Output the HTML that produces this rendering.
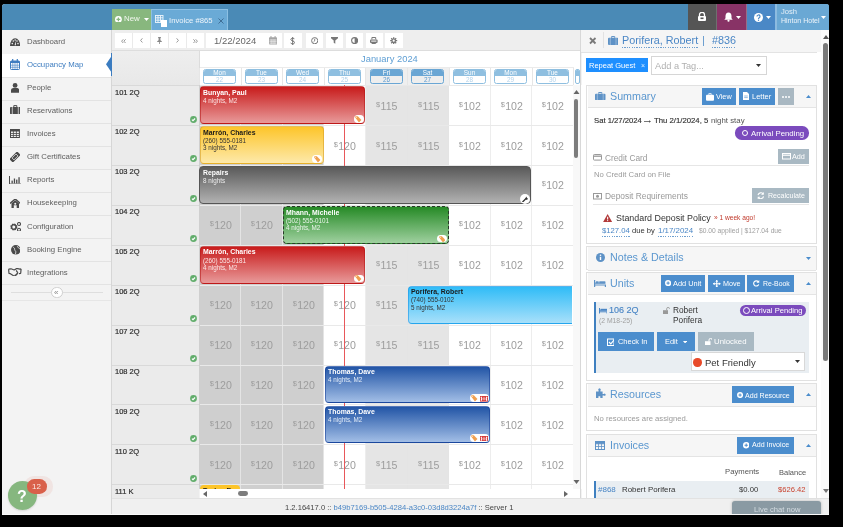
<!DOCTYPE html><html><head><meta charset="utf-8"><style>
*{box-sizing:border-box;margin:0;padding:0}
html,body{width:843px;height:527px;overflow:hidden;background:#000;font-family:"Liberation Sans",sans-serif;position:relative}
.a{position:absolute}
.t{position:absolute;line-height:1;white-space:nowrap;will-change:transform}
.b{font-weight:bold}
</style></head><body><div class="a" style="left:2px;top:4px;width:827px;height:511px;background:#f3f3f3;border-radius:3px 3px 0 0"></div>
<div class="a" style="left:2px;top:4px;width:827px;height:26px;background:#4a8ab6;border-radius:3px 3px 0 0"></div>
<div class="a" style="left:112px;top:9px;width:39px;height:21px;background:#88b77e"></div>
<svg class="a" style="left:115.2px;top:15.6px;" width="6.8" height="6.8" viewBox="0 0 6.8 6.8"><circle cx="3.4" cy="3.4" r="3.4" fill="#fff"/><path d="M3.4 1.5v3.8M1.5 3.4h3.8" stroke="#88b77e" stroke-width="1.3"/></svg>
<div class="t " style="left:124.2px;top:15.21px;font-size:7.9px;color:#f2f7ef">New</div>
<svg class="a" style="left:144px;top:17.6px;" width="5" height="3" viewBox="0 0 5 3"><path d="M0 0h5L2.5 3z" fill="#fff"/></svg>
<div class="a" style="left:151px;top:9px;width:77px;height:21px;background:#6aaad6;border:1px solid #8cc0e3;border-bottom:none"></div>
<svg class="a" style="left:155px;top:15px;" width="13" height="13" viewBox="0 0 13 13"><g fill="none" stroke="#eef5fb" stroke-width="0.9"><rect x="0.5" y="0.5" width="7.5" height="7"/><path d="M0.5 2.8h7.5M0.5 5.2h7.5M3 0.5v7M5.5 0.5v7"/></g><rect x="6" y="5" width="6" height="7" fill="#fff"/></svg>
<div class="t " style="left:168.5px;top:17.08px;font-size:7.7px;color:#eef5fb">Invoice #865</div>
<svg class="a" style="left:218px;top:18px;" width="6" height="6" viewBox="0 0 6 6"><path d="M0.5 0.5l5 5M5.5 0.5l-5 5" stroke="#3f6f96" stroke-width="1"/></svg>
<div class="a" style="left:688px;top:4px;width:28px;height:26px;background:#555"></div>
<div class="a" style="left:716px;top:4px;width:1px;height:26px;background:#6f6f6f"></div>
<div class="a" style="left:717px;top:4px;width:29px;height:26px;background:#883366"></div>
<div class="a" style="left:746px;top:4px;width:1px;height:26px;background:#9a6d86"></div>
<div class="a" style="left:747px;top:4px;width:28px;height:26px;background:#4a88c6"></div>
<div class="a" style="left:775px;top:4px;width:2px;height:26px;background:#8cbbe0"></div>
<div class="a" style="left:777px;top:4px;width:52px;height:26px;background:#6aa8d4;border-radius:0 3px 0 0"></div>
<svg class="a" style="left:697px;top:12px;" width="10" height="9" viewBox="0 0 10 9"><path d="M2.5 4V2.8a2.5 2.5 0 0 1 5 0V4" fill="none" stroke="#fff" stroke-width="1.3"/><rect x="1" y="4" width="8" height="5" rx="1" fill="#fff"/><rect x="3.5" y="5.5" width="3" height="1.6" fill="#555"/></svg>
<svg class="a" style="left:724px;top:12px;" width="9" height="10" viewBox="0 0 9 10"><path d="M4.5 0.5c2 0 3 1.6 3 3.5v2.2l1.2 1.6H0.3l1.2-1.6V4c0-1.9 1-3.5 3-3.5z" fill="#fff"/><circle cx="4.5" cy="8.7" r="1.1" fill="#fff"/></svg>
<svg class="a" style="left:736px;top:16px;" width="5" height="3" viewBox="0 0 5 3"><path d="M0 0h5L2.5 3z" fill="#fff"/></svg>
<svg class="a" style="left:753.5px;top:12.5px;" width="9" height="9" viewBox="0 0 9 9"><circle cx="4.5" cy="4.5" r="4.5" fill="#fff"/><path d="M3 3.5a1.5 1.5 0 1 1 2.2 1.3c-.6.3-.7.6-.7 1.1" fill="none" stroke="#4a88c6" stroke-width="1.2"/><circle cx="4.5" cy="7.2" r=".7" fill="#4a88c6"/></svg>
<svg class="a" style="left:766px;top:16px;" width="5" height="3" viewBox="0 0 5 3"><path d="M0 0h5L2.5 3z" fill="#fff"/></svg>
<div class="t " style="left:780.7px;top:8.37px;font-size:7.6px;color:#e6f0f8">Josh</div>
<div class="t " style="left:780.7px;top:17.07px;font-size:7px;color:#eef4fa">Hinton Hotel</div>
<svg class="a" style="left:821px;top:16px;" width="5" height="3" viewBox="0 0 5 3"><path d="M0 0h5L2.5 3z" fill="#fff"/></svg>
<div class="a" style="left:2px;top:30px;width:110px;height:484px;background:#f3f3f3"></div>
<div class="a" style="left:2px;top:53.6px;width:110px;height:1px;background:#e3e3e3"></div>
<div class="t " style="left:26.8px;top:38.20px;font-size:7.8px;color:#5e5e5e">Dashboard</div>
<div class="a" style="left:2px;top:53.64px;width:110px;height:23px;background:#fff"></div>
<div class="a" style="left:2px;top:76.64px;width:110px;height:1px;background:#e3e3e3"></div>
<div class="t " style="left:26.8px;top:61.24px;font-size:7.8px;color:#3e7dc0">Occupancy Map</div>
<div class="a" style="left:2px;top:99.68px;width:110px;height:1px;background:#e3e3e3"></div>
<div class="t " style="left:26.8px;top:84.28px;font-size:7.8px;color:#5e5e5e">People</div>
<div class="a" style="left:2px;top:122.72px;width:110px;height:1px;background:#e3e3e3"></div>
<div class="t " style="left:26.8px;top:107.32px;font-size:7.8px;color:#5e5e5e">Reservations</div>
<div class="a" style="left:2px;top:145.76px;width:110px;height:1px;background:#e3e3e3"></div>
<div class="t " style="left:26.8px;top:130.36px;font-size:7.8px;color:#5e5e5e">Invoices</div>
<div class="a" style="left:2px;top:168.79999999999998px;width:110px;height:1px;background:#e3e3e3"></div>
<div class="t " style="left:26.8px;top:153.40px;font-size:7.8px;color:#5e5e5e">Gift Certificates</div>
<div class="a" style="left:2px;top:191.84px;width:110px;height:1px;background:#e3e3e3"></div>
<div class="t " style="left:26.8px;top:176.44px;font-size:7.8px;color:#5e5e5e">Reports</div>
<div class="a" style="left:2px;top:214.88px;width:110px;height:1px;background:#e3e3e3"></div>
<div class="t " style="left:26.8px;top:199.48px;font-size:7.8px;color:#5e5e5e">Housekeeping</div>
<div class="a" style="left:2px;top:237.92px;width:110px;height:1px;background:#e3e3e3"></div>
<div class="t " style="left:26.8px;top:222.52px;font-size:7.8px;color:#5e5e5e">Configuration</div>
<div class="a" style="left:2px;top:260.96px;width:110px;height:1px;background:#e3e3e3"></div>
<div class="t " style="left:26.8px;top:245.56px;font-size:7.8px;color:#5e5e5e">Booking Engine</div>
<div class="a" style="left:2px;top:284.0px;width:110px;height:1px;background:#e3e3e3"></div>
<div class="t " style="left:26.8px;top:268.60px;font-size:7.8px;color:#5e5e5e">Integrations</div>
<svg class="a" style="left:9.8px;top:37.6px;" width="10.3" height="8.2" viewBox="0 0 10.3 8.2"><path d="M0 8.2A5.15 5.15 0 0 1 10.3 8.2z" fill="#4a4a4a" transform="translate(0,0) scale(1,1.55) translate(0,-2.9)"/><circle cx="2.3" cy="5.6" r=".8" fill="#f3f3f3"/><circle cx="3.3" cy="3" r=".8" fill="#f3f3f3"/><circle cx="5.15" cy="2" r=".8" fill="#f3f3f3"/><circle cx="7" cy="3" r=".8" fill="#f3f3f3"/><circle cx="8" cy="5.6" r=".8" fill="#f3f3f3"/><path d="M5.6 3L4.6 7.2h1.4z" fill="#f3f3f3"/></svg>
<svg class="a" style="left:10.1px;top:59px;" width="10" height="11" viewBox="0 0 10 11"><rect x=".5" y="2" width="9" height="8.5" rx=".8" fill="none" stroke="#3e7dc0" stroke-width="1"/><rect x=".5" y="2" width="9" height="2" fill="#3e7dc0"/><path d="M2.7 0v2.5M7.3 0v2.5" stroke="#3e7dc0" stroke-width="1.2"/><g stroke="#3e7dc0" stroke-width=".6"><path d="M.5 6.2h9M.5 8.3h9M2.8 4v6.5M5 4v6.5M7.2 4v6.5"/></g></svg>
<svg class="a" style="left:11px;top:82.9px;" width="8.2" height="9.7" viewBox="0 0 8.2 9.7"><circle cx="4.1" cy="2.4" r="2.4" fill="#4a4a4a"/><path d="M0 9.7V7.3C0 5.8 1.3 5 2.5 5h3.2C6.9 5 8.2 5.8 8.2 7.3v2.4z" fill="#4a4a4a"/></svg>
<svg class="a" style="left:9.8px;top:105.3px;" width="10.6" height="9.2" viewBox="0 0 10.6 9.2"><path d="M3.8 2V.6h3v1.4" fill="none" stroke="#4a4a4a" stroke-width="1"/><rect x="0" y="2" width="10.6" height="7.2" rx="1" fill="#4a4a4a"/><path d="M2.3 2v7.2M8.3 2v7.2" stroke="#f3f3f3" stroke-width=".7"/></svg>
<svg class="a" style="left:10.1px;top:129px;" width="9.9" height="9" viewBox="0 0 9.9 9"><rect x=".5" y=".5" width="8.9" height="8" fill="none" stroke="#4a4a4a" stroke-width="1"/><rect x=".5" y=".5" width="8.9" height="2" fill="#4a4a4a"/><path d="M.5 4.5h8.9M.5 6.5h8.9M3.4 .5v8M6.4 .5v8" stroke="#4a4a4a" stroke-width=".8"/></svg>
<svg class="a" style="left:10.2px;top:151.8px;" width="10.1" height="9.9" viewBox="0 0 10.1 9.9"><g transform="rotate(-45 5.05 4.95)"><rect x="-.5" y="2.4" width="11" height="5" rx=".6" fill="#4a4a4a"/><rect x="2.2" y="3.5" width="5.6" height="2.8" fill="none" stroke="#f3f3f3" stroke-width=".7"/></g></svg>
<svg class="a" style="left:9px;top:175.9px;" width="12.3" height="8.6" viewBox="0 0 12.3 8.6"><path d="M.5 0v8.1h11.8" fill="none" stroke="#4a4a4a" stroke-width="1"/><rect x="2.5" y="4.6" width="1.3" height="2.8" fill="#4a4a4a"/><rect x="4.8" y="2.5" width="1.3" height="4.9" fill="#4a4a4a"/><rect x="7.1" y="3.6" width="1.3" height="3.8" fill="#4a4a4a"/><rect x="9.4" y="1.2" width="1.3" height="6.2" fill="#4a4a4a"/></svg>
<svg class="a" style="left:9.6px;top:199px;" width="10.5" height="9" viewBox="0 0 10.5 9"><path d="M0 4.5L5.25 0l5.25 4.5" fill="none" stroke="#4a4a4a" stroke-width="1.4"/><path d="M1.5 4.3V9h2.3V6.2h2.9V9H9V4.3L5.25 1.3z" fill="#4a4a4a"/><circle cx="5.25" cy="4.8" r="1" fill="#f3f3f3"/></svg>
<svg class="a" style="left:9.6px;top:221.6px;" width="11.4" height="9.7" viewBox="0 0 11.4 9.7"><circle cx="3.8" cy="5" r="2.6" fill="none" stroke="#4a4a4a" stroke-width="1.8" stroke-dasharray="1.3 .75"/><circle cx="3.8" cy="5" r="2.3" fill="none" stroke="#4a4a4a" stroke-width="1.3"/><circle cx="9" cy="2" r="1.5" fill="none" stroke="#4a4a4a" stroke-width="1.1"/><circle cx="9" cy="7.7" r="1.5" fill="none" stroke="#4a4a4a" stroke-width="1.1"/></svg>
<svg class="a" style="left:10.5px;top:245px;" width="9.6" height="9.6" viewBox="0 0 9.6 9.6"><circle cx="4.8" cy="4.8" r="4.8" fill="#4a4a4a"/><path d="M2 2.2c1 .3 1.8 1 1.6 2.2-.2.9.9 1.2 1.2 2.3.2.8-.2 1.8-.5 2.6M6.6 1c-.4 .9.2 1.6 1 1.8.8.2 1.3.9 1.5 1.6" fill="none" stroke="#f3f3f3" stroke-width=".8"/></svg>
<svg class="a" style="left:8px;top:268.4px;" width="13.7" height="8.1" viewBox="0 0 13.7 8.1"><path d="M.6 1.2l2.4-.4 3.2 1.2 2.6-1.6 3.1.7 1.3-.2M.6 1.2l.4 4.3 1.4.2 3.5 2.3c.7.4 1.4-.2 1.1-.7.8.3 1.3-.3 1-.8.8.2 1.3-.5.9-1 .8.1 1.1-.7.6-1.1L8.2 2.4M13.1 .9l-.4 4.4-1.7.4" fill="none" stroke="#4a4a4a" stroke-width="1.2" stroke-linejoin="round"/></svg>
<svg class="a" style="left:105.5px;top:53.8px;" width="7" height="20.6" viewBox="0 0 7 20.6"><path d="M7 0V20.6L0 10.3z" fill="#3b7cc0"/></svg>
<div class="a" style="left:11px;top:292.3px;width:92px;height:1px;background:#dedede"></div>
<div class="a" style="left:51.3px;top:286.8px;width:11.5px;height:11.5px;border-radius:50%;background:#fff;border:1px solid #d0d0d0"></div>
<div class="t " style="left:53.9px;top:288.83px;font-size:8px;color:#888">&laquo;</div>
<div class="a" style="left:2px;top:300.3px;width:110px;height:1px;background:#e6e6e6"></div>
<div class="a" style="left:111px;top:30px;width:1.6px;height:484px;background:#d6d6d6"></div>
<div class="a" style="left:111px;top:52.8px;width:1.6px;height:23.2px;background:#3b7cc0"></div>
<div class="a" style="left:112px;top:30px;width:469px;height:20px;background:#eeeeee"></div>
<div class="a" style="left:112px;top:50px;width:469px;height:1px;background:#dddddd"></div>
<div class="a" style="left:114.8px;top:32.8px;width:89.1px;height:15px;background:#fff"></div>
<div class="a" style="left:132.1px;top:32.8px;width:0.6px;height:15px;background:#eaeaea"></div>
<div class="a" style="left:150.1px;top:32.8px;width:0.6px;height:15px;background:#eaeaea"></div>
<div class="a" style="left:168px;top:32.8px;width:0.6px;height:15px;background:#eaeaea"></div>
<div class="a" style="left:185.8px;top:32.8px;width:0.6px;height:15px;background:#eaeaea"></div>
<div class="a" style="left:206.4px;top:32.8px;width:75.4px;height:15px;background:#fff"></div>
<div class="a" style="left:284.1px;top:32.8px;width:17.5px;height:15px;background:#fff"></div>
<div class="a" style="left:306.2px;top:32.8px;width:17.0px;height:15px;background:#fff"></div>
<div class="a" style="left:326.1px;top:32.8px;width:17.0px;height:15px;background:#fff"></div>
<div class="a" style="left:346px;top:32.8px;width:17px;height:15px;background:#fff"></div>
<div class="a" style="left:365.5px;top:32.8px;width:17.5px;height:15px;background:#fff"></div>
<div class="a" style="left:385.4px;top:32.8px;width:17.5px;height:15px;background:#fff"></div>
<svg class="a" style="left:121px;top:38.6px;" width="5" height="4.4" viewBox="0 0 5 4.4"><path d="M2.3.3L.6 2.2l1.7 1.9M4.6.3L2.9 2.2l1.7 1.9" fill="none" stroke="#999" stroke-width="1"/></svg>
<svg class="a" style="left:140.2px;top:38.4px;" width="3" height="4.8" viewBox="0 0 3 4.8"><path d="M2.4.3L.6 2.4l1.8 2.1" fill="none" stroke="#999" stroke-width="1"/></svg>
<svg class="a" style="left:156.8px;top:37px;" width="5" height="7" viewBox="0 0 5 7"><path d="M1.1 0h2.8v.8l-.5.4v2l1.4 1.1v.6H.2v-.6l1.4-1.1v-2l-.5-.4z" fill="#888"/><path d="M2.5 4.8v2.2" stroke="#888" stroke-width=".8"/></svg>
<svg class="a" style="left:176px;top:38.4px;" width="3" height="4.8" viewBox="0 0 3 4.8"><path d="M.6.3l1.8 2.1L.6 4.5" fill="none" stroke="#999" stroke-width="1"/></svg>
<svg class="a" style="left:193px;top:38.6px;" width="5" height="4.4" viewBox="0 0 5 4.4"><path d="M.4.3l1.7 1.9L.4 4.1M2.7.3l1.7 1.9-1.7 1.9" fill="none" stroke="#999" stroke-width="1"/></svg>
<div class="t " style="left:214.2px;top:35.76px;font-size:9.5px;color:#666">1/22/2024</div>
<svg class="a" style="left:268.8px;top:36.2px;" width="8.1" height="8.5" viewBox="0 0 8.1 8.5"><rect x="0" y="1.3" width="8.1" height="7.2" rx=".8" fill="#a5a5a5"/><path d="M2 0v2.2M6.1 0v2.2" stroke="#a5a5a5" stroke-width="1"/><g stroke="#fff" stroke-width=".5"><path d="M.5 4h7.1M.5 5.6h7.1M.5 7.2h7.1M2.2 3.2v5M4.05 3.2v5M5.9 3.2v5"/></g></svg>
<svg class="a" style="left:290px;top:36.5px;" width="5.3" height="8" viewBox="0 0 6 9"><path d="M3 0v9" stroke="#6a6a6a" stroke-width="1"/><path d="M5.1 2.4C4.8 1.6 4 1.3 3 1.3 1.8 1.3 1 1.9 1 2.8c0 2 4.2 1.3 4.2 3.4 0 1-.9 1.6-2.2 1.6-1.1 0-2-.4-2.3-1.3" fill="none" stroke="#6a6a6a" stroke-width="1.1"/></svg>
<svg class="a" style="left:311px;top:37px;" width="7.4" height="7.4" viewBox="0 0 7.4 7.4"><circle cx="3.7" cy="3.7" r="3.1" fill="none" stroke="#777" stroke-width="1"/><path d="M3.7 1.8v2.1L2.5 5" fill="none" stroke="#777" stroke-width=".9"/></svg>
<svg class="a" style="left:331px;top:37.3px;" width="7" height="6.8" viewBox="0 0 7 6.8"><path d="M0 0h7v1.2L4.3 3.6v3.2L2.7 5.8V3.6L0 1.2z" fill="#777"/></svg>
<svg class="a" style="left:351px;top:37px;" width="7.2" height="7.2" viewBox="0 0 7.2 7.2"><circle cx="3.6" cy="3.6" r="3" fill="none" stroke="#777" stroke-width="1.1"/><path d="M3.6 .6a3 3 0 0 1 0 6z" fill="#777"/></svg>
<svg class="a" style="left:370.4px;top:37px;" width="7.6" height="7" viewBox="0 0 7.6 7"><path d="M1.9 2.4V.5h3.8v1.9" fill="none" stroke="#777" stroke-width="1"/><rect x="0" y="2.4" width="7.6" height="3.6" rx="1" fill="#777"/><rect x="1.2" y="3.6" width="5.2" height="1" fill="#fff"/><path d="M1.9 5.6v.9h3.8v-.9" fill="none" stroke="#777" stroke-width="1"/></svg>
<svg class="a" style="left:390.4px;top:37px;" width="7.4" height="7.4" viewBox="0 0 7.4 7.4"><circle cx="3.7" cy="3.7" r="2.3" fill="#777"/><g stroke="#777" stroke-width="1.3"><path d="M3.7 .2v7M.2 3.7h7M1.2 1.2l5 5M6.2 1.2l-5 5"/></g><circle cx="3.7" cy="3.7" r="1.1" fill="#fff"/></svg>
<div class="a" style="left:112px;top:51px;width:87px;height:34px;background:linear-gradient(#eeeeee,#e8e8e8)"></div>
<div class="a" style="left:198.5px;top:51px;width:1px;height:34px;background:#dcdcdc"></div>
<div class="a" style="left:199.5px;top:51px;width:381.5px;height:34px;background:#fff"></div>
<div class="a" style="left:199.5px;top:67px;width:374px;height:1px;background:#ebebeb"></div>
<div class="t " style="left:361px;top:54.14px;font-size:9.4px;color:#5f9fd4">January 2024</div>
<div class="a" style="left:199.0px;top:68px;width:1px;height:17px;background:#e6e6e6"></div>
<div class="a" style="left:203.2px;top:68.8px;width:33px;height:15px;border:1px solid #8fbfe0;border-radius:2.5px;background:#ffffff;overflow:hidden"><div class="a" style="left:0;top:0;width:31px;height:6px;background:#8fbfe0"></div></div>
<div class="t " style="left:203.2px;top:69.58px;font-size:6.4px;color:#fff;width:33px;text-align:center">Mon</div>
<div class="t " style="left:203.2px;top:76.88px;font-size:6.4px;color:#b3d2ea;width:33px;text-align:center">22</div>
<div class="a" style="left:240.6px;top:68px;width:1px;height:17px;background:#e6e6e6"></div>
<div class="a" style="left:244.8px;top:68.8px;width:33px;height:15px;border:1px solid #8fbfe0;border-radius:2.5px;background:#ffffff;overflow:hidden"><div class="a" style="left:0;top:0;width:31px;height:6px;background:#8fbfe0"></div></div>
<div class="t " style="left:244.79999999999998px;top:69.58px;font-size:6.4px;color:#fff;width:33px;text-align:center">Tue</div>
<div class="t " style="left:244.79999999999998px;top:76.88px;font-size:6.4px;color:#b3d2ea;width:33px;text-align:center">23</div>
<div class="a" style="left:282.2px;top:68px;width:1px;height:17px;background:#e6e6e6"></div>
<div class="a" style="left:286.4px;top:68.8px;width:33px;height:15px;border:1px solid #8fbfe0;border-radius:2.5px;background:#ffffff;overflow:hidden"><div class="a" style="left:0;top:0;width:31px;height:6px;background:#8fbfe0"></div></div>
<div class="t " style="left:286.4px;top:69.58px;font-size:6.4px;color:#fff;width:33px;text-align:center">Wed</div>
<div class="t " style="left:286.4px;top:76.88px;font-size:6.4px;color:#b3d2ea;width:33px;text-align:center">24</div>
<div class="a" style="left:323.8px;top:68px;width:1px;height:17px;background:#e6e6e6"></div>
<div class="a" style="left:328.0px;top:68.8px;width:33px;height:15px;border:1px solid #8fbfe0;border-radius:2.5px;background:#ffffff;overflow:hidden"><div class="a" style="left:0;top:0;width:31px;height:6px;background:#8fbfe0"></div></div>
<div class="t " style="left:328.0px;top:69.58px;font-size:6.4px;color:#fff;width:33px;text-align:center">Thu</div>
<div class="t " style="left:328.0px;top:76.88px;font-size:6.4px;color:#b3d2ea;width:33px;text-align:center">25</div>
<div class="a" style="left:365.4px;top:68px;width:41.6px;height:17px;background:#efefef"></div>
<div class="a" style="left:365.4px;top:68px;width:1px;height:17px;background:#e6e6e6"></div>
<div class="a" style="left:369.6px;top:68.8px;width:33px;height:15px;border:1px solid #6aa6d4;border-radius:2.5px;background:#eeeeee;overflow:hidden"><div class="a" style="left:0;top:0;width:31px;height:6px;background:#6aa6d4"></div></div>
<div class="t " style="left:369.59999999999997px;top:69.58px;font-size:6.4px;color:#fff;width:33px;text-align:center">Fri</div>
<div class="t " style="left:369.59999999999997px;top:76.88px;font-size:6.4px;color:#5a9ad0;width:33px;text-align:center">26</div>
<div class="a" style="left:407.0px;top:68px;width:41.6px;height:17px;background:#efefef"></div>
<div class="a" style="left:407.0px;top:68px;width:1px;height:17px;background:#e6e6e6"></div>
<div class="a" style="left:411.2px;top:68.8px;width:33px;height:15px;border:1px solid #6aa6d4;border-radius:2.5px;background:#eeeeee;overflow:hidden"><div class="a" style="left:0;top:0;width:31px;height:6px;background:#6aa6d4"></div></div>
<div class="t " style="left:411.2px;top:69.58px;font-size:6.4px;color:#fff;width:33px;text-align:center">Sat</div>
<div class="t " style="left:411.2px;top:76.88px;font-size:6.4px;color:#5a9ad0;width:33px;text-align:center">27</div>
<div class="a" style="left:448.6px;top:68px;width:1px;height:17px;background:#e6e6e6"></div>
<div class="a" style="left:452.8px;top:68.8px;width:33px;height:15px;border:1px solid #8fbfe0;border-radius:2.5px;background:#ffffff;overflow:hidden"><div class="a" style="left:0;top:0;width:31px;height:6px;background:#8fbfe0"></div></div>
<div class="t " style="left:452.8px;top:69.58px;font-size:6.4px;color:#fff;width:33px;text-align:center">Sun</div>
<div class="t " style="left:452.8px;top:76.88px;font-size:6.4px;color:#b3d2ea;width:33px;text-align:center">28</div>
<div class="a" style="left:490.2px;top:68px;width:1px;height:17px;background:#e6e6e6"></div>
<div class="a" style="left:494.4px;top:68.8px;width:33px;height:15px;border:1px solid #8fbfe0;border-radius:2.5px;background:#ffffff;overflow:hidden"><div class="a" style="left:0;top:0;width:31px;height:6px;background:#8fbfe0"></div></div>
<div class="t " style="left:494.4px;top:69.58px;font-size:6.4px;color:#fff;width:33px;text-align:center">Mon</div>
<div class="t " style="left:494.4px;top:76.88px;font-size:6.4px;color:#b3d2ea;width:33px;text-align:center">29</div>
<div class="a" style="left:531.8px;top:68px;width:1px;height:17px;background:#e6e6e6"></div>
<div class="a" style="left:536.0px;top:68.8px;width:33px;height:15px;border:1px solid #8fbfe0;border-radius:2.5px;background:#ffffff;overflow:hidden"><div class="a" style="left:0;top:0;width:31px;height:6px;background:#8fbfe0"></div></div>
<div class="t " style="left:536.0px;top:69.58px;font-size:6.4px;color:#fff;width:33px;text-align:center">Tue</div>
<div class="t " style="left:536.0px;top:76.88px;font-size:6.4px;color:#b3d2ea;width:33px;text-align:center">30</div>
<div class="a" style="left:573.4px;top:68px;width:1px;height:17px;background:#e6e6e6"></div>
<div class="a" style="left:574.8px;top:68.8px;width:5.4px;height:15px;border:1px solid #8fbfe0;border-radius:2px;background:#fff;overflow:hidden"><div class="a" style="left:0;top:0;width:4px;height:6px;background:#8fbfe0"></div></div>
<div class="a" style="left:112px;top:85px;width:87px;height:413px;background:#ebebeb"></div>
<div class="a" style="left:198.5px;top:85px;width:1px;height:404px;background:#d8d8d8"></div>
<div class="a" style="left:199.0px;top:85px;width:41.6px;height:404px;background:#cfcfcf"></div>
<div class="a" style="left:240.6px;top:85px;width:41.6px;height:404px;background:#cfcfcf"></div>
<div class="a" style="left:282.2px;top:85px;width:41.6px;height:404px;background:#cfcfcf"></div>
<div class="a" style="left:323.8px;top:85px;width:41.6px;height:404px;background:#ffffff"></div>
<div class="a" style="left:365.4px;top:85px;width:41.6px;height:404px;background:#e5e5e5"></div>
<div class="a" style="left:407.0px;top:85px;width:41.6px;height:404px;background:#e5e5e5"></div>
<div class="a" style="left:448.6px;top:85px;width:41.6px;height:404px;background:#ffffff"></div>
<div class="a" style="left:490.2px;top:85px;width:41.6px;height:404px;background:#ffffff"></div>
<div class="a" style="left:531.8px;top:85px;width:41.6px;height:404px;background:#ffffff"></div>
<div class="a" style="left:573.4000000000001px;top:85px;width:41.6px;height:404px;background:#ffffff"></div>
<div class="a" style="left:240.1px;top:85px;width:1px;height:404px;background:#e4e4e4"></div>
<div class="a" style="left:281.7px;top:85px;width:1px;height:404px;background:#e4e4e4"></div>
<div class="a" style="left:323.3px;top:85px;width:1px;height:404px;background:#e4e4e4"></div>
<div class="a" style="left:364.90000000000003px;top:85px;width:1px;height:404px;background:#ededed"></div>
<div class="a" style="left:406.5px;top:85px;width:1px;height:404px;background:#e4e4e4"></div>
<div class="a" style="left:448.1px;top:85px;width:1px;height:404px;background:#e4e4e4"></div>
<div class="a" style="left:489.70000000000005px;top:85px;width:1px;height:404px;background:#ededed"></div>
<div class="a" style="left:531.3px;top:85px;width:1px;height:404px;background:#ededed"></div>
<div class="a" style="left:572.9px;top:85px;width:1px;height:404px;background:#ededed"></div>
<div class="a" style="left:614.5000000000001px;top:85px;width:1px;height:404px;background:#ededed"></div>
<div class="a" style="left:112px;top:85.25px;width:87px;height:1px;background:#d9d9d9"></div>
<div class="a" style="left:199.5px;top:85.25px;width:374px;height:1px;background:#e9e9e9"></div>
<div class="t " style="left:114.5px;top:88.50px;font-size:7.5px;color:#2e2e2e;-webkit-text-stroke:0.2px currentColor">101 2Q</div>
<svg class="a" style="left:189.6px;top:115.55px;" width="7" height="7" viewBox="0 0 7 7"><circle cx="3.5" cy="3.5" r="3.4" fill="#62ad6c"/><path d="M1.9 3.6l1.1 1.1 2.1-2.2" fill="none" stroke="#fff" stroke-width="1.1"/></svg>
<div class="a" style="left:112px;top:125.15px;width:87px;height:1px;background:#d9d9d9"></div>
<div class="a" style="left:199.5px;top:125.15px;width:374px;height:1px;background:#e9e9e9"></div>
<div class="t " style="left:114.5px;top:128.40px;font-size:7.5px;color:#2e2e2e;-webkit-text-stroke:0.2px currentColor">102 2Q</div>
<svg class="a" style="left:189.6px;top:155.45000000000002px;" width="7" height="7" viewBox="0 0 7 7"><circle cx="3.5" cy="3.5" r="3.4" fill="#62ad6c"/><path d="M1.9 3.6l1.1 1.1 2.1-2.2" fill="none" stroke="#fff" stroke-width="1.1"/></svg>
<div class="a" style="left:112px;top:165.05px;width:87px;height:1px;background:#d9d9d9"></div>
<div class="a" style="left:199.5px;top:165.05px;width:374px;height:1px;background:#e9e9e9"></div>
<div class="t " style="left:114.5px;top:168.30px;font-size:7.5px;color:#2e2e2e;-webkit-text-stroke:0.2px currentColor">103 2Q</div>
<svg class="a" style="left:189.6px;top:195.35000000000002px;" width="7" height="7" viewBox="0 0 7 7"><circle cx="3.5" cy="3.5" r="3.4" fill="#62ad6c"/><path d="M1.9 3.6l1.1 1.1 2.1-2.2" fill="none" stroke="#fff" stroke-width="1.1"/></svg>
<div class="a" style="left:112px;top:204.95px;width:87px;height:1px;background:#d9d9d9"></div>
<div class="a" style="left:199.5px;top:204.95px;width:374px;height:1px;background:#e9e9e9"></div>
<div class="t " style="left:114.5px;top:208.20px;font-size:7.5px;color:#2e2e2e;-webkit-text-stroke:0.2px currentColor">104 2Q</div>
<svg class="a" style="left:189.6px;top:235.25px;" width="7" height="7" viewBox="0 0 7 7"><circle cx="3.5" cy="3.5" r="3.4" fill="#62ad6c"/><path d="M1.9 3.6l1.1 1.1 2.1-2.2" fill="none" stroke="#fff" stroke-width="1.1"/></svg>
<div class="a" style="left:112px;top:244.85px;width:87px;height:1px;background:#d9d9d9"></div>
<div class="a" style="left:199.5px;top:244.85px;width:374px;height:1px;background:#e9e9e9"></div>
<div class="t " style="left:114.5px;top:248.10px;font-size:7.5px;color:#2e2e2e;-webkit-text-stroke:0.2px currentColor">105 2Q</div>
<svg class="a" style="left:189.6px;top:275.15px;" width="7" height="7" viewBox="0 0 7 7"><circle cx="3.5" cy="3.5" r="3.4" fill="#62ad6c"/><path d="M1.9 3.6l1.1 1.1 2.1-2.2" fill="none" stroke="#fff" stroke-width="1.1"/></svg>
<div class="a" style="left:112px;top:284.75px;width:87px;height:1px;background:#d9d9d9"></div>
<div class="a" style="left:199.5px;top:284.75px;width:374px;height:1px;background:#e9e9e9"></div>
<div class="t " style="left:114.5px;top:288.00px;font-size:7.5px;color:#2e2e2e;-webkit-text-stroke:0.2px currentColor">106 2Q</div>
<svg class="a" style="left:189.6px;top:315.05px;" width="7" height="7" viewBox="0 0 7 7"><circle cx="3.5" cy="3.5" r="3.4" fill="#62ad6c"/><path d="M1.9 3.6l1.1 1.1 2.1-2.2" fill="none" stroke="#fff" stroke-width="1.1"/></svg>
<div class="a" style="left:112px;top:324.65px;width:87px;height:1px;background:#d9d9d9"></div>
<div class="a" style="left:199.5px;top:324.65px;width:374px;height:1px;background:#e9e9e9"></div>
<div class="t " style="left:114.5px;top:327.90px;font-size:7.5px;color:#2e2e2e;-webkit-text-stroke:0.2px currentColor">107 2Q</div>
<svg class="a" style="left:189.6px;top:354.95px;" width="7" height="7" viewBox="0 0 7 7"><circle cx="3.5" cy="3.5" r="3.4" fill="#62ad6c"/><path d="M1.9 3.6l1.1 1.1 2.1-2.2" fill="none" stroke="#fff" stroke-width="1.1"/></svg>
<div class="a" style="left:112px;top:364.55px;width:87px;height:1px;background:#d9d9d9"></div>
<div class="a" style="left:199.5px;top:364.55px;width:374px;height:1px;background:#e9e9e9"></div>
<div class="t " style="left:114.5px;top:367.80px;font-size:7.5px;color:#2e2e2e;-webkit-text-stroke:0.2px currentColor">108 2Q</div>
<svg class="a" style="left:189.6px;top:394.85px;" width="7" height="7" viewBox="0 0 7 7"><circle cx="3.5" cy="3.5" r="3.4" fill="#62ad6c"/><path d="M1.9 3.6l1.1 1.1 2.1-2.2" fill="none" stroke="#fff" stroke-width="1.1"/></svg>
<div class="a" style="left:112px;top:404.45px;width:87px;height:1px;background:#d9d9d9"></div>
<div class="a" style="left:199.5px;top:404.45px;width:374px;height:1px;background:#e9e9e9"></div>
<div class="t " style="left:114.5px;top:407.70px;font-size:7.5px;color:#2e2e2e;-webkit-text-stroke:0.2px currentColor">109 2Q</div>
<svg class="a" style="left:189.6px;top:434.75px;" width="7" height="7" viewBox="0 0 7 7"><circle cx="3.5" cy="3.5" r="3.4" fill="#62ad6c"/><path d="M1.9 3.6l1.1 1.1 2.1-2.2" fill="none" stroke="#fff" stroke-width="1.1"/></svg>
<div class="a" style="left:112px;top:444.34999999999997px;width:87px;height:1px;background:#d9d9d9"></div>
<div class="a" style="left:199.5px;top:444.34999999999997px;width:374px;height:1px;background:#e9e9e9"></div>
<div class="t " style="left:114.5px;top:447.60px;font-size:7.5px;color:#2e2e2e;-webkit-text-stroke:0.2px currentColor">110 2Q</div>
<svg class="a" style="left:189.6px;top:474.65px;" width="7" height="7" viewBox="0 0 7 7"><circle cx="3.5" cy="3.5" r="3.4" fill="#62ad6c"/><path d="M1.9 3.6l1.1 1.1 2.1-2.2" fill="none" stroke="#fff" stroke-width="1.1"/></svg>
<div class="a" style="left:112px;top:484.25px;width:87px;height:1px;background:#d9d9d9"></div>
<div class="a" style="left:199.5px;top:484.25px;width:374px;height:1px;background:#e9e9e9"></div>
<div class="t " style="left:114.5px;top:487.50px;font-size:7.5px;color:#2e2e2e;-webkit-text-stroke:0.2px currentColor">111 K</div>
<div class="t" style="left:366.0px;top:100.5px;width:41.6px;text-align:center;color:#9d9d9d;font-size:10.6px"><span style="font-size:7.4px;vertical-align:3.1px;margin-right:.4px">$</span>115</div>
<div class="t" style="left:407.6px;top:100.5px;width:41.6px;text-align:center;color:#9d9d9d;font-size:10.6px"><span style="font-size:7.4px;vertical-align:3.1px;margin-right:.4px">$</span>115</div>
<div class="t" style="left:449.2px;top:100.5px;width:41.6px;text-align:center;color:#9d9d9d;font-size:10.6px"><span style="font-size:7.4px;vertical-align:3.1px;margin-right:.4px">$</span>102</div>
<div class="t" style="left:490.8px;top:100.5px;width:41.6px;text-align:center;color:#9d9d9d;font-size:10.6px"><span style="font-size:7.4px;vertical-align:3.1px;margin-right:.4px">$</span>102</div>
<div class="t" style="left:532.4px;top:100.5px;width:41.6px;text-align:center;color:#9d9d9d;font-size:10.6px"><span style="font-size:7.4px;vertical-align:3.1px;margin-right:.4px">$</span>102</div>
<div class="t" style="left:324.4px;top:140.5px;width:41.6px;text-align:center;color:#9d9d9d;font-size:10.6px"><span style="font-size:7.4px;vertical-align:3.1px;margin-right:.4px">$</span>120</div>
<div class="t" style="left:366.0px;top:140.5px;width:41.6px;text-align:center;color:#9d9d9d;font-size:10.6px"><span style="font-size:7.4px;vertical-align:3.1px;margin-right:.4px">$</span>115</div>
<div class="t" style="left:407.6px;top:140.5px;width:41.6px;text-align:center;color:#9d9d9d;font-size:10.6px"><span style="font-size:7.4px;vertical-align:3.1px;margin-right:.4px">$</span>115</div>
<div class="t" style="left:449.2px;top:140.5px;width:41.6px;text-align:center;color:#9d9d9d;font-size:10.6px"><span style="font-size:7.4px;vertical-align:3.1px;margin-right:.4px">$</span>102</div>
<div class="t" style="left:490.8px;top:140.5px;width:41.6px;text-align:center;color:#9d9d9d;font-size:10.6px"><span style="font-size:7.4px;vertical-align:3.1px;margin-right:.4px">$</span>102</div>
<div class="t" style="left:532.4px;top:140.5px;width:41.6px;text-align:center;color:#9d9d9d;font-size:10.6px"><span style="font-size:7.4px;vertical-align:3.1px;margin-right:.4px">$</span>102</div>
<div class="t" style="left:532.4px;top:180.4px;width:41.6px;text-align:center;color:#9d9d9d;font-size:10.6px"><span style="font-size:7.4px;vertical-align:3.1px;margin-right:.4px">$</span>102</div>
<div class="t" style="left:199.6px;top:220.2px;width:41.6px;text-align:center;color:#9d9d9d;font-size:10.6px"><span style="font-size:7.4px;vertical-align:3.1px;margin-right:.4px">$</span>120</div>
<div class="t" style="left:241.2px;top:220.2px;width:41.6px;text-align:center;color:#9d9d9d;font-size:10.6px"><span style="font-size:7.4px;vertical-align:3.1px;margin-right:.4px">$</span>120</div>
<div class="t" style="left:449.2px;top:220.2px;width:41.6px;text-align:center;color:#9d9d9d;font-size:10.6px"><span style="font-size:7.4px;vertical-align:3.1px;margin-right:.4px">$</span>102</div>
<div class="t" style="left:490.8px;top:220.2px;width:41.6px;text-align:center;color:#9d9d9d;font-size:10.6px"><span style="font-size:7.4px;vertical-align:3.1px;margin-right:.4px">$</span>102</div>
<div class="t" style="left:532.4px;top:220.2px;width:41.6px;text-align:center;color:#9d9d9d;font-size:10.6px"><span style="font-size:7.4px;vertical-align:3.1px;margin-right:.4px">$</span>102</div>
<div class="t" style="left:366.0px;top:260.1px;width:41.6px;text-align:center;color:#9d9d9d;font-size:10.6px"><span style="font-size:7.4px;vertical-align:3.1px;margin-right:.4px">$</span>115</div>
<div class="t" style="left:407.6px;top:260.1px;width:41.6px;text-align:center;color:#9d9d9d;font-size:10.6px"><span style="font-size:7.4px;vertical-align:3.1px;margin-right:.4px">$</span>115</div>
<div class="t" style="left:449.2px;top:260.1px;width:41.6px;text-align:center;color:#9d9d9d;font-size:10.6px"><span style="font-size:7.4px;vertical-align:3.1px;margin-right:.4px">$</span>102</div>
<div class="t" style="left:490.8px;top:260.1px;width:41.6px;text-align:center;color:#9d9d9d;font-size:10.6px"><span style="font-size:7.4px;vertical-align:3.1px;margin-right:.4px">$</span>102</div>
<div class="t" style="left:532.4px;top:260.1px;width:41.6px;text-align:center;color:#9d9d9d;font-size:10.6px"><span style="font-size:7.4px;vertical-align:3.1px;margin-right:.4px">$</span>102</div>
<div class="t" style="left:199.6px;top:300.1px;width:41.6px;text-align:center;color:#9d9d9d;font-size:10.6px"><span style="font-size:7.4px;vertical-align:3.1px;margin-right:.4px">$</span>120</div>
<div class="t" style="left:241.2px;top:300.1px;width:41.6px;text-align:center;color:#9d9d9d;font-size:10.6px"><span style="font-size:7.4px;vertical-align:3.1px;margin-right:.4px">$</span>120</div>
<div class="t" style="left:282.8px;top:300.1px;width:41.6px;text-align:center;color:#9d9d9d;font-size:10.6px"><span style="font-size:7.4px;vertical-align:3.1px;margin-right:.4px">$</span>120</div>
<div class="t" style="left:324.4px;top:300.1px;width:41.6px;text-align:center;color:#9d9d9d;font-size:10.6px"><span style="font-size:7.4px;vertical-align:3.1px;margin-right:.4px">$</span>120</div>
<div class="t" style="left:366.0px;top:300.1px;width:41.6px;text-align:center;color:#9d9d9d;font-size:10.6px"><span style="font-size:7.4px;vertical-align:3.1px;margin-right:.4px">$</span>115</div>
<div class="t" style="left:199.6px;top:339.9px;width:41.6px;text-align:center;color:#9d9d9d;font-size:10.6px"><span style="font-size:7.4px;vertical-align:3.1px;margin-right:.4px">$</span>120</div>
<div class="t" style="left:241.2px;top:339.9px;width:41.6px;text-align:center;color:#9d9d9d;font-size:10.6px"><span style="font-size:7.4px;vertical-align:3.1px;margin-right:.4px">$</span>120</div>
<div class="t" style="left:282.8px;top:339.9px;width:41.6px;text-align:center;color:#9d9d9d;font-size:10.6px"><span style="font-size:7.4px;vertical-align:3.1px;margin-right:.4px">$</span>120</div>
<div class="t" style="left:324.4px;top:339.9px;width:41.6px;text-align:center;color:#9d9d9d;font-size:10.6px"><span style="font-size:7.4px;vertical-align:3.1px;margin-right:.4px">$</span>120</div>
<div class="t" style="left:366.0px;top:339.9px;width:41.6px;text-align:center;color:#9d9d9d;font-size:10.6px"><span style="font-size:7.4px;vertical-align:3.1px;margin-right:.4px">$</span>115</div>
<div class="t" style="left:407.6px;top:339.9px;width:41.6px;text-align:center;color:#9d9d9d;font-size:10.6px"><span style="font-size:7.4px;vertical-align:3.1px;margin-right:.4px">$</span>115</div>
<div class="t" style="left:449.2px;top:339.9px;width:41.6px;text-align:center;color:#9d9d9d;font-size:10.6px"><span style="font-size:7.4px;vertical-align:3.1px;margin-right:.4px">$</span>102</div>
<div class="t" style="left:490.8px;top:339.9px;width:41.6px;text-align:center;color:#9d9d9d;font-size:10.6px"><span style="font-size:7.4px;vertical-align:3.1px;margin-right:.4px">$</span>102</div>
<div class="t" style="left:532.4px;top:339.9px;width:41.6px;text-align:center;color:#9d9d9d;font-size:10.6px"><span style="font-size:7.4px;vertical-align:3.1px;margin-right:.4px">$</span>102</div>
<div class="t" style="left:199.6px;top:379.9px;width:41.6px;text-align:center;color:#9d9d9d;font-size:10.6px"><span style="font-size:7.4px;vertical-align:3.1px;margin-right:.4px">$</span>120</div>
<div class="t" style="left:241.2px;top:379.9px;width:41.6px;text-align:center;color:#9d9d9d;font-size:10.6px"><span style="font-size:7.4px;vertical-align:3.1px;margin-right:.4px">$</span>120</div>
<div class="t" style="left:282.8px;top:379.9px;width:41.6px;text-align:center;color:#9d9d9d;font-size:10.6px"><span style="font-size:7.4px;vertical-align:3.1px;margin-right:.4px">$</span>120</div>
<div class="t" style="left:490.8px;top:379.9px;width:41.6px;text-align:center;color:#9d9d9d;font-size:10.6px"><span style="font-size:7.4px;vertical-align:3.1px;margin-right:.4px">$</span>102</div>
<div class="t" style="left:532.4px;top:379.9px;width:41.6px;text-align:center;color:#9d9d9d;font-size:10.6px"><span style="font-size:7.4px;vertical-align:3.1px;margin-right:.4px">$</span>102</div>
<div class="t" style="left:199.6px;top:419.8px;width:41.6px;text-align:center;color:#9d9d9d;font-size:10.6px"><span style="font-size:7.4px;vertical-align:3.1px;margin-right:.4px">$</span>120</div>
<div class="t" style="left:241.2px;top:419.8px;width:41.6px;text-align:center;color:#9d9d9d;font-size:10.6px"><span style="font-size:7.4px;vertical-align:3.1px;margin-right:.4px">$</span>120</div>
<div class="t" style="left:282.8px;top:419.8px;width:41.6px;text-align:center;color:#9d9d9d;font-size:10.6px"><span style="font-size:7.4px;vertical-align:3.1px;margin-right:.4px">$</span>120</div>
<div class="t" style="left:490.8px;top:419.8px;width:41.6px;text-align:center;color:#9d9d9d;font-size:10.6px"><span style="font-size:7.4px;vertical-align:3.1px;margin-right:.4px">$</span>102</div>
<div class="t" style="left:532.4px;top:419.8px;width:41.6px;text-align:center;color:#9d9d9d;font-size:10.6px"><span style="font-size:7.4px;vertical-align:3.1px;margin-right:.4px">$</span>102</div>
<div class="t" style="left:199.6px;top:459.6px;width:41.6px;text-align:center;color:#9d9d9d;font-size:10.6px"><span style="font-size:7.4px;vertical-align:3.1px;margin-right:.4px">$</span>120</div>
<div class="t" style="left:241.2px;top:459.6px;width:41.6px;text-align:center;color:#9d9d9d;font-size:10.6px"><span style="font-size:7.4px;vertical-align:3.1px;margin-right:.4px">$</span>120</div>
<div class="t" style="left:282.8px;top:459.6px;width:41.6px;text-align:center;color:#9d9d9d;font-size:10.6px"><span style="font-size:7.4px;vertical-align:3.1px;margin-right:.4px">$</span>120</div>
<div class="t" style="left:324.4px;top:459.6px;width:41.6px;text-align:center;color:#9d9d9d;font-size:10.6px"><span style="font-size:7.4px;vertical-align:3.1px;margin-right:.4px">$</span>120</div>
<div class="t" style="left:366.0px;top:459.6px;width:41.6px;text-align:center;color:#9d9d9d;font-size:10.6px"><span style="font-size:7.4px;vertical-align:3.1px;margin-right:.4px">$</span>115</div>
<div class="t" style="left:407.6px;top:459.6px;width:41.6px;text-align:center;color:#9d9d9d;font-size:10.6px"><span style="font-size:7.4px;vertical-align:3.1px;margin-right:.4px">$</span>115</div>
<div class="t" style="left:449.2px;top:459.6px;width:41.6px;text-align:center;color:#9d9d9d;font-size:10.6px"><span style="font-size:7.4px;vertical-align:3.1px;margin-right:.4px">$</span>102</div>
<div class="t" style="left:490.8px;top:459.6px;width:41.6px;text-align:center;color:#9d9d9d;font-size:10.6px"><span style="font-size:7.4px;vertical-align:3.1px;margin-right:.4px">$</span>102</div>
<div class="t" style="left:532.4px;top:459.6px;width:41.6px;text-align:center;color:#9d9d9d;font-size:10.6px"><span style="font-size:7.4px;vertical-align:3.1px;margin-right:.4px">$</span>102</div>
<div class="a" style="left:344px;top:85px;width:1px;height:404px;background:#e8575a"></div>
<div class="a" style="left:199.8px;top:86.35px;width:165.5px;height:37.8px;background:linear-gradient(#c81c1c,#e89a9a);border:1px solid rgba(180,20,20,.55);border-radius:4px"></div>
<div class="t " style="left:203.0px;top:89.81px;font-size:6.9px;color:#fff;font-weight:bold">Bunyan, Paul</div>
<div class="t " style="left:203.0px;top:97.92px;font-size:6.3px;color:#fce6e6">4 nights, M2</div>
<div class="a" style="left:353.9px;top:115.0px;width:10px;height:7.8px;background:#fff;border-radius:3.9px"></div>
<svg class="a" style="left:355.40000000000003px;top:115.85px;" width="6.8" height="6.8" viewBox="0 0 6 6"><path d="M0.3 1.6V.3h2.2l3.2 3.2-2.2 2.2z" fill="#f0a050"/><circle cx="1.3" cy="1.3" r=".45" fill="#fff" opacity=".7"/></svg>
<div class="a" style="left:199.8px;top:126.25px;width:123.9px;height:37.8px;background:linear-gradient(#fdc52a,#fde9aa);border:1px solid rgba(215,160,40,.6);border-radius:4px"></div>
<div class="t " style="left:203.0px;top:129.71px;font-size:6.9px;color:#1a1a1a;font-weight:bold">Marr&oacute;n, Charles</div>
<div class="t " style="left:203.0px;top:137.82px;font-size:6.3px;color:#333">(260) 555-0181</div>
<div class="t " style="left:203.0px;top:145.37px;font-size:6.3px;color:#333">3 nights, M2</div>
<div class="a" style="left:312.3px;top:155.0px;width:10px;height:7.8px;background:#fff;border-radius:3.9px"></div>
<svg class="a" style="left:313.8px;top:155.75px;" width="6.8" height="6.8" viewBox="0 0 6 6"><path d="M0.3 1.6V.3h2.2l3.2 3.2-2.2 2.2z" fill="#f0a050"/><circle cx="1.3" cy="1.3" r=".45" fill="#fff" opacity=".7"/></svg>
<div class="a" style="left:199.3px;top:166.15px;width:332.1px;height:37.8px;background:linear-gradient(#5a5a5a,#b2b2b2);border:1px solid #555;border-radius:4px"></div>
<div class="t " style="left:202.5px;top:169.61px;font-size:6.9px;color:#fff;font-weight:bold">Repairs</div>
<div class="t " style="left:202.5px;top:177.72px;font-size:6.3px;color:#eee">8 nights</div>
<div class="a" style="left:283px;top:206.05px;width:165.5px;height:37.8px;background:linear-gradient(#268a26,#9fd09f);border:1px dashed #2a3a2a;border-radius:4px"></div>
<div class="t " style="left:286.2px;top:209.51px;font-size:6.9px;color:#fff;font-weight:bold">Mhann, Michelle</div>
<div class="t " style="left:286.2px;top:217.62px;font-size:6.3px;color:#eaf5ea">(502) 555-0101</div>
<div class="t " style="left:286.2px;top:225.17px;font-size:6.3px;color:#eaf5ea">4 nights, M2</div>
<div class="a" style="left:437.1px;top:234.7px;width:10px;height:7.8px;background:#fff;border-radius:3.9px"></div>
<svg class="a" style="left:438.6px;top:235.54999999999995px;" width="6.8" height="6.8" viewBox="0 0 6 6"><path d="M0.3 1.6V.3h2.2l3.2 3.2-2.2 2.2z" fill="#f0a050"/><circle cx="1.3" cy="1.3" r=".45" fill="#fff" opacity=".7"/></svg>
<div class="a" style="left:199.8px;top:245.95px;width:165.5px;height:37.8px;background:linear-gradient(#c81c1c,#e89a9a);border:1px solid rgba(180,20,20,.55);border-radius:4px"></div>
<div class="t " style="left:203.0px;top:249.41px;font-size:6.9px;color:#fff;font-weight:bold">Marr&oacute;n, Charles</div>
<div class="t " style="left:203.0px;top:257.52px;font-size:6.3px;color:#fce6e6">(260) 555-0181</div>
<div class="t " style="left:203.0px;top:265.07px;font-size:6.3px;color:#fce6e6">4 nights, M2</div>
<div class="a" style="left:353.9px;top:274.6px;width:10px;height:7.8px;background:#fff;border-radius:3.9px"></div>
<svg class="a" style="left:355.40000000000003px;top:275.45px;" width="6.8" height="6.8" viewBox="0 0 6 6"><path d="M0.3 1.6V.3h2.2l3.2 3.2-2.2 2.2z" fill="#f0a050"/><circle cx="1.3" cy="1.3" r=".45" fill="#fff" opacity=".7"/></svg>
<div class="a" style="left:407.9px;top:285.85px;width:164.1px;height:37.8px;background:linear-gradient(#30bcf7,#a8e0fa);border:1px solid rgba(30,150,230,.6);border-radius:4px 0 0 4px;border-right:none"></div>
<div class="t " style="left:411.09999999999997px;top:289.31px;font-size:6.9px;color:#1a1a1a;font-weight:bold">Porifera, Robert</div>
<div class="t " style="left:411.09999999999997px;top:297.42px;font-size:6.3px;color:#333">(740) 555-0102</div>
<div class="t " style="left:411.09999999999997px;top:304.97px;font-size:6.3px;color:#333">5 nights, M2</div>
<div class="a" style="left:325px;top:365.65px;width:165.0px;height:37.8px;background:linear-gradient(#2255a6,#a2bee6);border:1px solid rgba(20,60,150,.55);border-radius:4px"></div>
<div class="t " style="left:328.2px;top:369.11px;font-size:6.9px;color:#fff;font-weight:bold">Thomas, Dave</div>
<div class="t " style="left:328.2px;top:377.22px;font-size:6.3px;color:#e3ecf8">4 nights, M2</div>
<div class="a" style="left:469.6px;top:394.4px;width:19px;height:7.8px;background:#fff;border-radius:3.9px"></div>
<svg class="a" style="left:471.1px;top:395.15000000000003px;" width="6.8" height="6.8" viewBox="0 0 6 6"><path d="M0.3 1.6V.3h2.2l3.2 3.2-2.2 2.2z" fill="#f0a050"/><circle cx="1.3" cy="1.3" r=".45" fill="#fff" opacity=".7"/></svg>
<svg class="a" style="left:480.2px;top:395.95000000000005px;" width="8" height="5.6" viewBox="0 0 8 5.6"><rect x="0" y="0" width="8" height="5.6" fill="#d83c3c"/><path d="M1 .9Q2.6 2.8 1 4.7M7 .9Q5.4 2.8 7 4.7" fill="none" stroke="#fff" stroke-width="1.1"/><ellipse cx="4" cy="2.8" rx="1.1" ry="1.7" fill="#ec9a9a"/></svg>
<div class="a" style="left:325px;top:405.55px;width:165.0px;height:37.8px;background:linear-gradient(#2255a6,#a2bee6);border:1px solid rgba(20,60,150,.55);border-radius:4px"></div>
<div class="t " style="left:328.2px;top:409.01px;font-size:6.9px;color:#fff;font-weight:bold">Thomas, Dave</div>
<div class="t " style="left:328.2px;top:417.12px;font-size:6.3px;color:#e3ecf8">4 nights, M2</div>
<div class="a" style="left:469.6px;top:434.2px;width:19px;height:7.8px;background:#fff;border-radius:3.9px"></div>
<svg class="a" style="left:471.1px;top:435.05px;" width="6.8" height="6.8" viewBox="0 0 6 6"><path d="M0.3 1.6V.3h2.2l3.2 3.2-2.2 2.2z" fill="#f0a050"/><circle cx="1.3" cy="1.3" r=".45" fill="#fff" opacity=".7"/></svg>
<svg class="a" style="left:480.2px;top:435.85px;" width="8" height="5.6" viewBox="0 0 8 5.6"><rect x="0" y="0" width="8" height="5.6" fill="#d83c3c"/><path d="M1 .9Q2.6 2.8 1 4.7M7 .9Q5.4 2.8 7 4.7" fill="none" stroke="#fff" stroke-width="1.1"/><ellipse cx="4" cy="2.8" rx="1.1" ry="1.7" fill="#ec9a9a"/></svg>
<div class="a" style="left:199.8px;top:485.35px;width:40px;height:10px;background:#fdc52a;border-radius:4px 4px 0 0"></div>
<div class="t " style="left:203px;top:487.91px;font-size:6.9px;color:#1a1a1a;font-weight:bold">Taylor, E</div>
<div class="a" style="left:520.1px;top:194px;width:10px;height:10px;background:#fff;border-radius:50%"></div>
<svg class="a" style="left:521.8px;top:195.6px;" width="6.6" height="6.6" viewBox="0 0 6.6 6.6"><path d="M.8 5.8L3.8 2.8" stroke="#333" stroke-width="1.3" stroke-linecap="round"/><path d="M3.2 2.2L4.6.6 5 2.2 6.4 2.6 4.6 4z" fill="#333"/></svg>
<div class="a" style="left:572.5px;top:85px;width:8px;height:404px;background:#f8f8f8"></div>
<svg class="a" style="left:572.5px;top:89.5px;" width="7" height="4" viewBox="0 0 7 4"><path d="M0.5 4h6L3.5 0z" fill="#666"/></svg>
<div class="a" style="left:573.8px;top:99px;width:4.6px;height:59px;background:#7c7c7c;border-radius:2.3px"></div>
<svg class="a" style="left:572.5px;top:480px;" width="7" height="4" viewBox="0 0 7 4"><path d="M0.5 0h6L3.5 4z" fill="#666"/></svg>
<div class="a" style="left:199.5px;top:489px;width:381.5px;height:9px;background:#fff"></div>
<svg class="a" style="left:203px;top:490.5px;" width="4" height="6" viewBox="0 0 4 6"><path d="M4 0v6L0 3z" fill="#666"/></svg>
<svg class="a" style="left:563.5px;top:490.5px;" width="4" height="6" viewBox="0 0 4 6"><path d="M0 0v6L4 3z" fill="#666"/></svg>
<div class="a" style="left:238px;top:491.4px;width:10px;height:4.8px;background:#7c7c7c;border-radius:2.4px"></div>
<div class="a" style="left:580px;top:30px;width:1.2px;height:468px;background:#d8d8d8"></div>
<div class="a" style="left:112px;top:498px;width:717px;height:16.6px;background:#f0f0f0"></div>
<div class="a" style="left:112px;top:498px;width:717px;height:1px;background:#e2e2e2"></div>
<div class="t " style="left:284.8px;top:504.17px;font-size:7.6px;color:#444">1.2.16417.0 :: <span style="color:#4a86c5">b49b7169-b505-4284-a3c0-03d8d3224a7f</span> :: Server 1</div>
<div class="a" style="left:582px;top:30px;width:247px;height:468px;background:#fff"></div>
<div class="a" style="left:581px;top:30px;width:240px;height:21.5px;background:#f5f5f5"></div>
<div class="a" style="left:581px;top:51.5px;width:240px;height:1px;background:#e3e3e3"></div>
<svg class="a" style="left:589px;top:37px;" width="7.5" height="7.5" viewBox="0 0 7.5 7.5"><path d="M1 1l5.5 5.5M6.5 1L1 6.5" stroke="#7a7a7a" stroke-width="1.8"/></svg>
<div class="a" style="left:602.5px;top:32px;width:1px;height:16px;background:#e2e2e2"></div>
<svg class="a" style="left:608px;top:36px;" width="10.3" height="9" viewBox="0 0 10.3 9"><path d="M3.60 1.80V0.54h3.09V1.80" fill="none" stroke="#5e92c6" stroke-width="1"/><rect x="0" y="1.80" width="10.3" height="7.20" rx="1" fill="#5e92c6"/><path d="M2.27 1.80v7.20M8.03 1.80v7.20" stroke="#fff" stroke-width="0.6" opacity="0.6"/></svg>
<div class="t " style="left:621.5px;top:35.26px;font-size:10.8px;color:#4a86c5">Porifera, Robert</div>
<div class="a" style="left:621.5px;top:46.5px;width:76px;height:1px;background:repeating-linear-gradient(90deg,#6d9fd0 0 1.2px,transparent 1.2px 2.4px)"></div>
<div class="a" style="left:702.8px;top:36px;width:1px;height:10px;background:#6d9fd0"></div>
<div class="t " style="left:712.3px;top:35.26px;font-size:10.8px;color:#4a86c5">#836</div>
<div class="a" style="left:712.3px;top:46.5px;width:24px;height:1px;background:repeating-linear-gradient(90deg,#6d9fd0 0 1.2px,transparent 1.2px 2.4px)"></div>
<div class="a" style="left:586.2px;top:57.9px;width:61.4px;height:14.6px;background:#1e8fff"></div>
<div class="t " style="left:589.3px;top:61.85px;font-size:7.5px;color:#fff">Repeat Guest</div>
<div class="t " style="left:641px;top:61.87px;font-size:7px;color:#dcefff">&times;</div>
<div class="a" style="left:651.2px;top:56.3px;width:115.7px;height:19px;background:#fff;border:1px solid #d6d6d6"></div>
<div class="t " style="left:655px;top:62.41px;font-size:9.2px;color:#b0b0b0">Add a Tag...</div>
<svg class="a" style="left:755.6px;top:64.3px;" width="5" height="3" viewBox="0 0 5 3"><path d="M0 0h5L2.5 3z" fill="#333"/></svg>
<div class="a" style="left:586px;top:85px;width:230.5px;height:158.6px;border:1px solid #e1e1e1;background:#fff"></div>
<div class="a" style="left:587.5px;top:86px;width:228px;height:21px;background:#f6f6f6"></div>
<div class="a" style="left:587.5px;top:107px;width:228px;height:1px;background:#e4e4e4"></div>
<div class="t " style="left:609.9px;top:90.84px;font-size:10.7px;color:#5b97cf">Summary</div>
<svg class="a" style="left:805.5px;top:94.5px;" width="5" height="3" viewBox="0 0 5 3"><path d="M0 3h5L2.5 0z" fill="#4a8ccc"/></svg>
<svg class="a" style="left:595px;top:92px;" width="10.5" height="8.2" viewBox="0 0 10.5 8.2"><path d="M3.67 1.64V0.49h3.15V1.64" fill="none" stroke="#5e92c6" stroke-width="1"/><rect x="0" y="1.64" width="10.5" height="6.56" rx="1" fill="#5e92c6"/><path d="M2.31 1.64v6.56M8.19 1.64v6.56" stroke="#fff" stroke-width="0.6" opacity="0.6"/></svg>
<div class="a" style="left:702.3px;top:88px;width:33.8px;height:16.8px;background:#4b8dcd"></div>
<div class="t " style="left:716.4px;top:93.02px;font-size:7.3px;color:#fff">View</div>
<svg class="a" style="left:706px;top:92.5px;" width="8" height="8" viewBox="0 0 8 8"><rect x="0" y="1.8" width="8" height="6" rx="1" fill="#fff"/><path d="M2.8 1.8V.6h2.4v1.2" fill="none" stroke="#fff" stroke-width=".8"/></svg>
<div class="a" style="left:738.5px;top:88px;width:36.9px;height:16.8px;background:#4b8dcd"></div>
<div class="t " style="left:751.7px;top:92.85px;font-size:7.5px;color:#fff">Letter</div>
<svg class="a" style="left:743px;top:92px;" width="6" height="8" viewBox="0 0 6 8"><path d="M0 0h4l2 2v6H0z" fill="#fff"/><path d="M1.2 4h3.6M1.2 5.6h3.6" stroke="#4b8dcd" stroke-width=".6"/></svg>
<div class="a" style="left:778px;top:88px;width:15.8px;height:16.8px;background:#a9b8c2"></div>
<svg class="a" style="left:782px;top:95.5px;" width="8" height="2" viewBox="0 0 8 2"><circle cx="1" cy="1" r="1" fill="#fff"/><circle cx="4" cy="1" r="1" fill="#fff"/><circle cx="7" cy="1" r="1" fill="#fff"/></svg>
<div class="t " style="left:593.8px;top:116.88px;font-size:7.7px;color:#333;-webkit-text-stroke:0.15px currentColor">Sat 1/27/2024</div>
<svg class="a" style="left:644px;top:119.5px;" width="7" height="3" viewBox="0 0 7 3"><path d="M0 1.5h5.5" stroke="#555" stroke-width=".8"/><path d="M7 1.5L5 .3v2.4z" fill="#555"/></svg>
<div class="t " style="left:653.6px;top:116.84px;font-size:7.75px;color:#333;-webkit-text-stroke:0.15px currentColor">Thu 2/1/2024, 5</div>
<div class="t " style="left:710.5px;top:116.75px;font-size:7.85px;color:#555">night stay</div>
<div class="a" style="left:735.2px;top:126.4px;width:73.6px;height:13.2px;background:#7b4bbd;border-radius:6.6px"></div>
<div class="a" style="left:741.5px;top:129.6px;width:6.6px;height:6.6px;border:1.2px solid #fff;border-radius:50%"></div>
<div class="t " style="left:751px;top:129.85px;font-size:7.85px;color:#fff">Arrival Pending</div>
<svg class="a" style="left:593.4px;top:154.4px;" width="9" height="6.6" viewBox="0 0 9 6.6"><rect x=".5" y=".5" width="8" height="5.6" rx=".8" fill="none" stroke="#999" stroke-width="1"/><path d="M.5 2.2h8" stroke="#999" stroke-width="1.3"/></svg>
<div class="t " style="left:604.5px;top:153.87px;font-size:8.3px;color:#999">Credit Card</div>
<div class="a" style="left:778px;top:149.4px;width:30.9px;height:14.5px;background:#a9b9c3"></div>
<div class="t " style="left:791.6px;top:153.31px;font-size:7.25px;color:#fff">Add</div>
<svg class="a" style="left:782px;top:153.3px;" width="9" height="6.5" viewBox="0 0 9 6.5"><rect x=".5" y=".5" width="8" height="5.5" fill="none" stroke="#fff" stroke-width="1"/><path d="M.5 2.2h8" stroke="#fff" stroke-width="1.2"/></svg>
<div class="a" style="left:593px;top:165px;width:216px;height:1px;background:#e6e6e6"></div>
<div class="t " style="left:593.6px;top:170.98px;font-size:7.7px;color:#9a9a9a">No Credit Card on File</div>
<svg class="a" style="left:593.4px;top:193px;" width="9" height="6.5" viewBox="0 0 9 6.5"><rect x=".5" y=".5" width="8" height="5.5" fill="none" stroke="#999" stroke-width="1"/><circle cx="4.5" cy="3.25" r="1.5" fill="#999"/></svg>
<div class="t " style="left:604.5px;top:192.09px;font-size:8.4px;color:#999">Deposit Requirements</div>
<div class="a" style="left:752.4px;top:187.8px;width:56.5px;height:14.9px;background:#a9b9c3"></div>
<div class="t " style="left:767.7px;top:192.08px;font-size:7.05px;color:#fff">Recalculate</div>
<svg class="a" style="left:757px;top:191.5px;" width="7.5" height="7.5" viewBox="0 0 7.5 7.5"><path d="M1 3.2A2.9 2.9 0 0 1 6.2 2M6.5 4.3A2.9 2.9 0 0 1 1.3 5.5" fill="none" stroke="#fff" stroke-width="1.1"/><path d="M6.8 0v2.8H4zM.7 7.5V4.7h2.8z" fill="#fff"/></svg>
<div class="a" style="left:593px;top:204px;width:216px;height:1px;background:#e6e6e6"></div>
<svg class="a" style="left:603px;top:213.5px;" width="9.3" height="8.2" viewBox="0 0 9.3 8.2"><path d="M4.65 0L9.3 8.2H0z" fill="#b23a3a"/><path d="M4.65 2.8v2.6" stroke="#fff" stroke-width="1.1"/><circle cx="4.65" cy="6.6" r=".6" fill="#fff"/></svg>
<div class="t " style="left:615.9px;top:214.17px;font-size:8.9px;color:#333">Standard Deposit Policy</div>
<div class="t " style="left:713.5px;top:215.11px;font-size:6.6px;color:#c0392b">&raquo; 1 week ago!</div>
<div class="t " style="left:602.4px;top:227.18px;font-size:7.7px;color:#4a86c5">$127.04</div>
<div class="a" style="left:602.4px;top:236px;width:27.8px;height:1px;background:repeating-linear-gradient(90deg,#6d9fd0 0 1.2px,transparent 1.2px 2.4px)"></div>
<div class="t " style="left:632.3px;top:227.27px;font-size:7.6px;color:#333">due by</div>
<div class="t " style="left:657.9px;top:227.01px;font-size:7.9px;color:#4a86c5">1/17/2024</div>
<div class="a" style="left:657.9px;top:236px;width:35.3px;height:1px;background:repeating-linear-gradient(90deg,#6d9fd0 0 1.2px,transparent 1.2px 2.4px)"></div>
<div class="t " style="left:698.8px;top:227.93px;font-size:6.7px;color:#a0a0a0">$0.00 applied | $127.04 due</div>
<div class="a" style="left:586px;top:246.4px;width:230.5px;height:23.49999999999997px;border:1px solid #e1e1e1;background:#fff"></div>
<div class="a" style="left:587.5px;top:247.4px;width:228px;height:22.49999999999997px;background:#f6f6f6"></div>
<div class="a" style="left:587.5px;top:269.9px;width:228px;height:1px;background:#e4e4e4"></div>
<div class="t " style="left:609.9px;top:252.99px;font-size:10.7px;color:#5b97cf">Notes &amp; Details</div>
<svg class="a" style="left:805.5px;top:256.65px;" width="5" height="3" viewBox="0 0 5 3"><path d="M0 0h5L2.5 3z" fill="#4a8ccc"/></svg>
<div class="a" style="left:587.5px;top:247.4px;width:228px;height:22px;background:#f6f6f6"></div>
<div class="t " style="left:609.9px;top:251.84px;font-size:10.7px;color:#5b97cf">Notes &amp; Details</div>
<svg class="a" style="left:805.5px;top:256.5px;" width="5" height="3" viewBox="0 0 5 3"><path d="M0 0h5L2.5 3z" fill="#4a8ccc"/></svg>
<svg class="a" style="left:596px;top:252.5px;" width="9" height="9" viewBox="0 0 9 9"><circle cx="4.5" cy="4.5" r="4.5" fill="#5e92c6"/><path d="M4.5 3.8v3.2" stroke="#fff" stroke-width="1.4"/><circle cx="4.5" cy="2.3" r=".8" fill="#fff"/></svg>
<div class="a" style="left:586px;top:271.9px;width:230.5px;height:109.30000000000001px;border:1px solid #e1e1e1;background:#fff"></div>
<div class="a" style="left:587.5px;top:272.9px;width:228px;height:21.5px;background:#f6f6f6"></div>
<div class="a" style="left:587.5px;top:294.4px;width:228px;height:1px;background:#e4e4e4"></div>
<div class="t " style="left:609.9px;top:277.99px;font-size:10.7px;color:#5b97cf">Units</div>
<svg class="a" style="left:805.5px;top:281.65px;" width="5" height="3" viewBox="0 0 5 3"><path d="M0 3h5L2.5 0z" fill="#4a8ccc"/></svg>
<svg class="a" style="left:594px;top:279.5px;" width="12" height="7.5" viewBox="0 0 12 7.5"><path d="M.6 0v7.5M.6 5h10.8v2.5M.6 3.2h10.8" fill="none" stroke="#5e92c6" stroke-width="1.2"/><rect x="2" y="1.3" width="2.6" height="2" fill="#5e92c6"/><rect x="5.3" y="1.3" width="6" height="2" fill="#5e92c6"/></svg>
<div class="a" style="left:660.7px;top:275.3px;width:44.8px;height:16.5px;background:#4b8dcd"></div>
<div class="t " style="left:672.7px;top:280.09px;font-size:7.4px;color:#fff">Add Unit</div>
<svg class="a" style="left:665px;top:280.2px;" width="6.2" height="6.2" viewBox="0 0 7.5 7.5"><circle cx="3.75" cy="3.75" r="3.75" fill="#fff"/><path d="M3.75 1.8v3.9M1.8 3.75h3.9" stroke="#4b8dcd" stroke-width="1.2"/></svg>
<div class="a" style="left:707.9px;top:275.3px;width:37.3px;height:16.5px;background:#4b8dcd"></div>
<div class="t " style="left:722.9px;top:280.26px;font-size:7.2px;color:#fff">Move</div>
<svg class="a" style="left:713px;top:279.5px;" width="7.5" height="7.5" viewBox="0 0 8 8"><path d="M4 0v8M0 4h8" stroke="#fff" stroke-width="1.2"/><path d="M4 0L2.5 1.8h3zM4 8L2.5 6.2h3zM0 4l1.8-1.5v3zM8 4L6.2 2.5v3z" fill="#fff"/></svg>
<div class="a" style="left:747.4px;top:275.3px;width:46.6px;height:16.5px;background:#4b8dcd"></div>
<div class="t " style="left:762.5px;top:280.51px;font-size:6.9px;color:#fff">Re-Book</div>
<svg class="a" style="left:753px;top:280px;" width="6.5" height="6.5" viewBox="0 0 7.5 7.5"><path d="M6.2 2.2A3 3 0 1 0 6.6 5" fill="none" stroke="#fff" stroke-width="1.3"/><path d="M7.2 0v3.2H4z" fill="#fff"/></svg>
<div class="a" style="left:594px;top:302.2px;width:215px;height:71.2px;background:#e9eef2"></div>
<div class="a" style="left:594px;top:302.2px;width:2.2px;height:71.2px;background:#3f80c0"></div>
<svg class="a" style="left:598.5px;top:308.2px;" width="8.5" height="5.5" viewBox="0 0 8.5 5.5"><path d="M.5 0v5.5M.5 3.8h7.5v1.7M.5 2.3h7.5" fill="none" stroke="#4a86c5" stroke-width="1"/><rect x="1.5" y=".8" width="6.5" height="1.5" fill="#4a86c5"/></svg>
<div class="t " style="left:608.9px;top:305.88px;font-size:9px;color:#4a86c5;-webkit-text-stroke:0.15px currentColor">106 2Q</div>
<div class="t " style="left:599px;top:318.14px;font-size:6.8px;color:#a0a0a0">(2 M18-25)</div>
<svg class="a" style="left:662.5px;top:306.5px;" width="7" height="7" viewBox="0 0 7 7"><path d="M3.7 3.2V1.8a1.4 1.4 0 0 1 2.8 0" fill="none" stroke="#999" stroke-width=".9"/><rect x="0" y="3.2" width="5" height="3.8" fill="#999"/></svg>
<div class="t " style="left:672.7px;top:305.77px;font-size:8.3px;color:#333">Robert</div>
<div class="t " style="left:672.7px;top:316.27px;font-size:8.3px;color:#333">Porifera</div>
<div class="a" style="left:739.8px;top:304.7px;width:66.1px;height:11.6px;background:#7b4bbd;border-radius:5.8px"></div>
<div class="a" style="left:742.5px;top:306.9px;width:7px;height:7px;border:1.2px solid #fff;border-radius:50%"></div>
<div class="t " style="left:750.5px;top:307.17px;font-size:7.6px;color:#fff">Arrival Pending</div>
<div class="a" style="left:598.3px;top:332px;width:56.1px;height:18.9px;background:#4b8dcd"></div>
<div class="t " style="left:617.5px;top:337.94px;font-size:7.45px;color:#fff">Check In</div>
<svg class="a" style="left:606.7px;top:338.3px;" width="7.5" height="7.5" viewBox="0 0 7.5 7.5"><rect x=".5" y="1" width="6.5" height="6.5" fill="none" stroke="#fff" stroke-width="1"/><path d="M2 4l1.8 1.8L7.5 1.5" fill="none" stroke="#fff" stroke-width="1.2"/></svg>
<div class="a" style="left:657.1px;top:332px;width:37.5px;height:18.9px;background:#4b8dcd"></div>
<div class="t " style="left:664.5px;top:337.99px;font-size:7.4px;color:#fff">Edit</div>
<svg class="a" style="left:683.3px;top:340.8px;" width="4.2" height="2.5" viewBox="0 0 5 3"><path d="M0 0h5L2.5 3z" fill="#fff"/></svg>
<div class="a" style="left:698px;top:332px;width:56.3px;height:18.9px;background:#a9b9c3"></div>
<div class="t " style="left:714px;top:337.65px;font-size:7.8px;color:#fff">Unlocked</div>
<svg class="a" style="left:704.6px;top:338.3px;" width="7.5" height="7" viewBox="0 0 7.5 7"><path d="M4 3.2V2a1.6 1.6 0 0 1 3.2 0" fill="none" stroke="#fff" stroke-width="1"/><rect x="0" y="3.2" width="5.5" height="3.8" fill="#fff"/></svg>
<div class="a" style="left:690.6px;top:351.5px;width:114.9px;height:19.3px;background:#fff;border:1px solid #d8d8d8"></div>
<div class="a" style="left:693.4px;top:358.2px;width:8.4px;height:8.4px;background:#e84a2a;border-radius:50%"></div>
<div class="t " style="left:704.5px;top:357.76px;font-size:9.5px;color:#333">Pet Friendly</div>
<svg class="a" style="left:794.5px;top:359.5px;" width="5" height="3" viewBox="0 0 5 3"><path d="M0 0h5L2.5 3z" fill="#333"/></svg>
<div class="a" style="left:586px;top:383.4px;width:230.5px;height:47.900000000000034px;border:1px solid #e1e1e1;background:#fff"></div>
<div class="a" style="left:587.5px;top:384.4px;width:228px;height:21.30000000000001px;background:#f6f6f6"></div>
<div class="a" style="left:587.5px;top:405.7px;width:228px;height:1px;background:#e4e4e4"></div>
<div class="t " style="left:609.9px;top:389.39px;font-size:10.7px;color:#5b97cf">Resources</div>
<svg class="a" style="left:805.5px;top:393.04999999999995px;" width="5" height="3" viewBox="0 0 5 3"><path d="M0 3h5L2.5 0z" fill="#4a8ccc"/></svg>
<svg class="a" style="left:594.5px;top:387.8px;" width="12" height="10.5" viewBox="0 0 12 10.5"><path d="M1 3.5h2.6V2.4a1.2 1.2 0 1 1 1.8 0v1.1h2.2v2.4h1.2a1.1 1.1 0 1 1 0 1.6H7.6v2.5H5.3V8.2H3.4v1.8H1z" fill="#5e92c6"/></svg>
<div class="a" style="left:732.4px;top:386.4px;width:61.6px;height:16.9px;background:#4b8dcd"></div>
<div class="t " style="left:744.8px;top:391.67px;font-size:7.07px;color:#fff">Add Resource</div>
<svg class="a" style="left:737.2px;top:391.7px;" width="6.1" height="6.1" viewBox="0 0 7.5 7.5"><circle cx="3.75" cy="3.75" r="3.75" fill="#fff"/><path d="M3.75 1.8v3.9M1.8 3.75h3.9" stroke="#4b8dcd" stroke-width="1.2"/></svg>
<div class="t " style="left:593.6px;top:415.18px;font-size:7.7px;color:#9a9a9a">No resources are assigned.</div>
<div class="a" style="left:586px;top:434.4px;width:230.5px;height:85.60000000000002px;border:1px solid #e1e1e1;background:#fff"></div>
<div class="a" style="left:587.5px;top:435.4px;width:228px;height:20.80000000000001px;background:#f6f6f6"></div>
<div class="a" style="left:587.5px;top:456.2px;width:228px;height:1px;background:#e4e4e4"></div>
<div class="t " style="left:609.9px;top:440.14px;font-size:10.7px;color:#5b97cf">Invoices</div>
<svg class="a" style="left:805.5px;top:443.79999999999995px;" width="5" height="3" viewBox="0 0 5 3"><path d="M0 3h5L2.5 0z" fill="#4a8ccc"/></svg>
<svg class="a" style="left:595px;top:440.5px;" width="10" height="9" viewBox="0 0 10 9"><rect x=".5" y=".5" width="9" height="8" fill="none" stroke="#5e92c6" stroke-width="1"/><path d="M.5 2.8h9M.5 5.5h9M3.5 .5v8M6.5 .5v8" stroke="#5e92c6" stroke-width=".8"/><rect x=".5" y=".5" width="9" height="2.3" fill="#5e92c6"/></svg>
<div class="a" style="left:736.8px;top:436.8px;width:57.2px;height:16.9px;background:#4b8dcd"></div>
<div class="t " style="left:752.3px;top:442.02px;font-size:7.12px;color:#fff">Add Invoice</div>
<svg class="a" style="left:742.6px;top:442.3px;" width="6.4" height="6.4" viewBox="0 0 7.5 7.5"><circle cx="3.75" cy="3.75" r="3.75" fill="#fff"/><path d="M3.75 1.8v3.9M1.8 3.75h3.9" stroke="#4b8dcd" stroke-width="1.2"/></svg>
<div class="t " style="left:724.5px;top:468.38px;font-size:7.7px;color:#555">Payments</div>
<div class="t " style="left:778.6px;top:468.55px;font-size:7.5px;color:#555">Balance</div>
<div class="a" style="left:594px;top:480.9px;width:215px;height:18px;background:#e9eef2"></div>
<div class="a" style="left:594px;top:480.9px;width:2.2px;height:18px;background:#3f80c0"></div>
<div class="t " style="left:598.3px;top:485.83px;font-size:8px;color:#4a86c5">#868</div>
<div class="t " style="left:621.7px;top:485.91px;font-size:7.9px;color:#333">Robert Porifera</div>
<div class="t " style="left:739.4px;top:486.18px;font-size:7.7px;color:#333">$0.00</div>
<div class="t " style="left:778.4px;top:486.27px;font-size:7.6px;color:#c9432f">$626.42</div>
<div class="a" style="left:816.5px;top:52px;width:4.5px;height:446px;background:#fff"></div>
<div class="a" style="left:821px;top:30px;width:8px;height:468px;background:#fbfbfb"></div>
<svg class="a" style="left:822.5px;top:34.5px;" width="6" height="4" viewBox="0 0 6 4"><path d="M0 4h6L3 0z" fill="#555"/></svg>
<div class="a" style="left:822.7px;top:42.5px;width:5.3px;height:318px;background:#7a7a7a;border-radius:2.6px"></div>
<svg class="a" style="left:822.5px;top:489px;" width="6" height="4" viewBox="0 0 6 4"><path d="M0 0h6L3 4z" fill="#777"/></svg>
<div class="a" style="left:582px;top:498px;width:247px;height:16.6px;background:#f0f0f0"></div>
<div class="a" style="left:582px;top:498px;width:247px;height:1px;background:#e2e2e2"></div>
<div class="a" style="left:731.7px;top:501.2px;width:89px;height:13.8px;background:#8a9aa3;border-radius:3px 3px 0 0;box-shadow:0 0 3px rgba(0,0,0,.25)"></div>
<div class="t " style="left:753.5px;top:505.57px;font-size:7.6px;color:#d5dde2">Live chat now</div>
<div class="a" style="left:24px;top:476px;width:29px;height:21px;border-radius:10px;background:rgba(215,96,74,.1)"></div>
<div class="a" style="left:7.8px;top:480.6px;width:29px;height:29px;border-radius:50%;background:#86b77f;box-shadow:0 1px 2px rgba(0,0,0,.12)"></div>
<div class="t " style="left:17.2px;top:489.46px;font-size:16px;color:#fff;font-weight:bold">?</div>
<div class="a" style="left:27px;top:479px;width:20px;height:14.7px;border-radius:7.3px;background:#d9604a"></div>
<div class="t " style="left:32.3px;top:482.63px;font-size:8px;color:#fbe9e5">12</div>
<div class="a" style="left:2px;top:514px;width:827px;height:1px;background:#fafafa"></div>
<div class="a" style="left:0px;top:514.6px;width:843px;height:13px;background:#000"></div>
<div class="a" style="left:829px;top:0px;width:14px;height:527px;background:#000"></div></body></html>
